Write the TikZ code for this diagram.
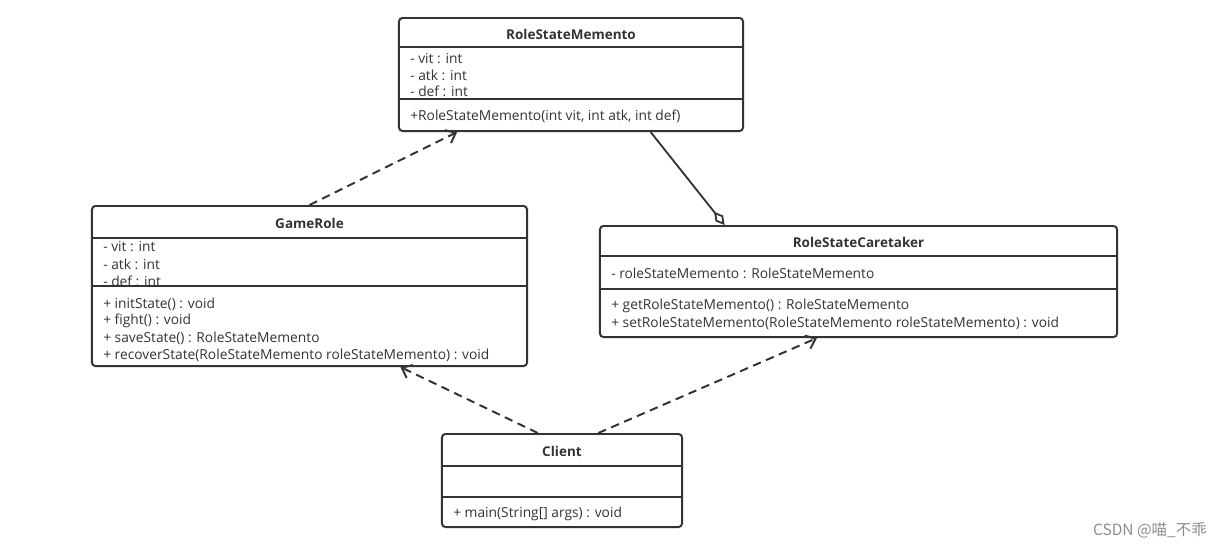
\documentclass[tikz,border=0pt]{standalone}
\usepackage{fontspec}
\setmainfont{Open Sans}
\newfontfamily\cjk{Noto Sans CJK SC}
\usetikzlibrary{arrows.meta,calc}
\definecolor{umlline}{HTML}{333333}
\definecolor{umltext}{HTML}{333333}
\tikzset{
  umlbox/.style={draw=umlline, line width=1.4pt, rounded corners=2.5pt, inner sep=0pt},
  umltitle/.style={inner sep=0pt, font=\fontsize{9.6}{10}\selectfont\bfseries, text=umltext},
  member/.style={anchor=west, inner sep=0pt, font=\fontsize{9.8}{10}\selectfont, text=umltext},
  divider/.style={draw=umlline, line width=1.2pt},
  depends/.style={draw=umlline, line width=1.4pt, dash pattern=on 6pt off 4pt,
    -{Straight Barb[length=2.2mm,width=3.6mm]}},
  aggregates/.style={draw=umlline, line width=1.3pt,
    -{Diamond[open,length=4.2mm,width=2.4mm]}}
}
\begin{document}
\begin{tikzpicture}[x=0.025cm,y=-0.025cm]
  \useasboundingbox (0,0) rectangle (1220,548);

  % memento
  \node[umlbox, minimum width=8.6cm, minimum height=2.825cm] (memento) at (571,74.5) {};
  \node[umltitle] (memento-t) at (571,34) {RoleStateMemento};
  \draw[divider] (memento.west |- 0,47) -- (memento.east |- 0,47);
  \draw[divider] (memento.west |- 0,99) -- (memento.east |- 0,99);
  \foreach \t [count=\i] in {- vit : int, - atk : int, - def : int}
    \node[member] (memento-a\i) at (410,43+16*\i) {\t};
  \node[member] (memento-m1) at (410,116) {+RoleStateMemento(int vit, int atk, int def)};

  % game role
  \node[umlbox, minimum width=10.875cm, minimum height=4cm] (gamerole) at (309.5,286) {};
  \node[umltitle] (gamerole-t) at (309.5,223) {GameRole};
  \draw[divider] (gamerole.west |- 0,238) -- (gamerole.east |- 0,238);
  \draw[divider] (gamerole.west |- 0,286) -- (gamerole.east |- 0,286);
  \foreach \t [count=\i] in {- vit : int, - atk : int, - def : int}
    \node[member] (gamerole-a\i) at (103,230+17*\i) {\t};
  \foreach \t [count=\i] in {+ initState() : void, + fight() : void,
      + saveState() : RoleStateMemento,
      + recoverState(RoleStateMemento roleStateMemento) : void}
    \node[member] (gamerole-m\i) at (103,287+17*\i) {\t};

  % caretaker
  \node[umlbox, minimum width=12.925cm, minimum height=2.775cm] (caretaker) at (858.5,281.5) {};
  \node[umltitle] (caretaker-t) at (858.5,242) {RoleStateCaretaker};
  \draw[divider] (caretaker.west |- 0,256) -- (caretaker.east |- 0,256);
  \draw[divider] (caretaker.west |- 0,289) -- (caretaker.east |- 0,289);
  \node[member] (caretaker-a1) at (611,273) {- roleStateMemento : RoleStateMemento};
  \node[member] (caretaker-m1) at (611,306) {+ getRoleStateMemento() : RoleStateMemento};
  \node[member] (caretaker-m2) at (611,323) {+ setRoleStateMemento(RoleStateMemento roleStateMemento) : void};

  % client
  \node[umlbox, minimum width=6cm, minimum height=2.325cm] (client) at (562,480.5) {};
  \node[umltitle] (client-t) at (562,451) {Client};
  \draw[divider] (client.west |- 0,466) -- (client.east |- 0,466);
  \draw[divider] (client.west |- 0,497) -- (client.east |- 0,497);
  \node[member] (client-m1) at (453,514) {+ main(String[] args) : void};

  % relations
  \draw[depends] (gamerole.north) -- ($(memento.south west)!0.171!(memento.south east)$);
  \draw[aggregates] ($(memento.south west)!0.73!(memento.south east)$)
    -- ($(caretaker.north west)!0.242!(caretaker.north east)$);
  \draw[depends] ($(client.north west)!0.4!(client.north east)$)
    -- ($(gamerole.south west)!0.708!(gamerole.south east)$);
  \draw[depends] ($(client.north west)!0.65!(client.north east)$)
    -- ($(caretaker.south west)!0.42!(caretaker.south east)$);

  \node[anchor=east, inner sep=0pt, text=black!45, font=\cjk\fontsize{11}{12}\selectfont]
    (mark) at (1207,530) {CSDN @喵\_不乖};
\end{tikzpicture}
\end{document}
